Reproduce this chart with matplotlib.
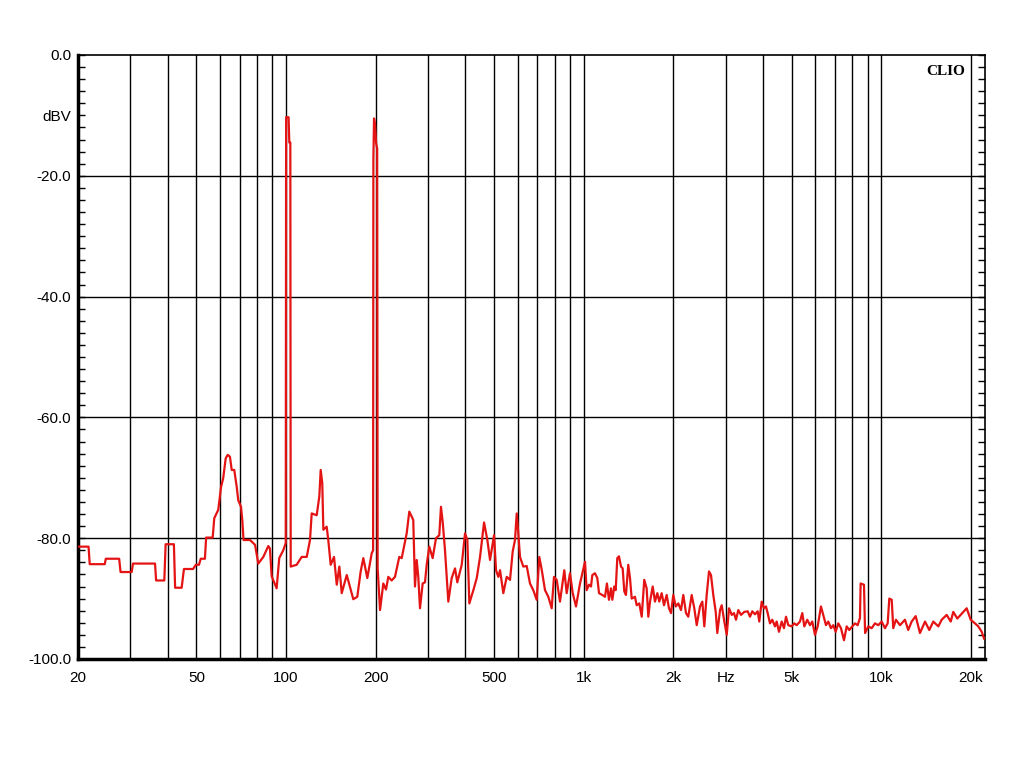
import matplotlib

matplotlib.use("Agg")
import matplotlib.pyplot as plt
from matplotlib.ticker import MultipleLocator, NullLocator

# spectrum trace (Hz, dBV)
freq = [
    20, 21.7, 21.9, 24.6, 24.8, 27.5, 27.8, 30.3, 30.6, 36.3, 36.6, 39.0, 39.4, 42.0,
    42.4, 44.6, 45.4, 48.7, 49.8, 51.0, 51.7, 53.4, 53.9, 56.7, 57.4, 59.2, 60.5, 61.5,
    62.7, 63.7, 64.8, 65.7, 67.0, 68.3, 69.1, 70.6, 71.3, 72.0, 75.7, 78.7, 80.7, 83.9,
    87.2, 88.3, 89.5, 93.0, 94.9, 97.9, 99.8, 100.1, 102.0, 102.6, 103.4, 103.7, 108.6,
    112.9, 117.4, 120.4, 122.0, 126.8, 129.4, 130.8, 132.4, 133.5, 137.0, 138.7, 141.3,
    145.0, 148.1, 151.1, 153.9, 160.0, 168.3, 173.6, 178.2, 181.9, 187.6, 194.1, 196.2,
    196.6, 197.6, 199.2, 200.8, 202.5, 203.2, 207.0, 212.3, 216.8, 220.7, 226.5, 232.4,
    240.2, 244.8, 254.4, 259.6, 264.4, 267.7, 271.3, 274.9, 278.3, 282.0, 287.9, 293.1,
    297.0, 303.0, 311.0, 319.2, 327.4, 331.7, 336.1, 342.2, 351.1, 360.4, 369.8, 376.4,
    389.5, 399.6, 406.8, 413.1, 426.2, 437.5, 448.8, 462.9, 474.9, 484.9, 500.2, 507.9,
    517.0, 523.9, 537.4, 551.7, 566.0, 577.8, 588.2, 596.1, 603.4, 611.4, 627.2, 643.9,
    660.6, 677.6, 695.7, 709.8, 723.2, 741.9, 761.1, 781.3, 795.3, 812.1, 833.1, 861.3,
    877.4, 900.2, 919.3, 943.0, 972.6,
    1011, 1024, 1043, 1059, 1070, 1092, 1112, 1127, 1156, 1180, 1198, 1217, 1236, 1249,
    1268, 1282, 1298, 1315, 1336, 1353, 1370, 1388, 1413, 1432, 1451, 1488, 1508, 1539,
    1568, 1599, 1629, 1650, 1672, 1707, 1737, 1769, 1796, 1830, 1863, 1902, 1936, 1967,
    2002, 2040, 2081, 2125, 2163, 2209, 2248, 2308, 2355, 2400, 2462, 2506, 2545, 2592,
    2639, 2680, 2728, 2780, 2814, 2874, 2912, 2971, 3027, 3081, 3146, 3202, 3252, 3311,
    3381, 3467, 3560, 3624, 3689, 3767, 3846, 3894, 3967, 4038, 4101, 4155, 4230, 4306,
    4397, 4455, 4535, 4631, 4714, 4788, 4874, 5003, 5105, 5201, 5335, 5431, 5516, 5645,
    5764, 5868, 5992, 6118, 6276, 6389, 6524, 6641, 6781, 6903, 7032, 7175, 7327, 7499,
    7657, 7813, 7996, 8165, 8338, 8487, 8530, 8754, 8830, 9050, 9291, 9531, 9779, 10040,
    10298, 10515, 10650, 10850, 10980, 11210, 11570, 12020,
    12330, 12660, 13060, 13500, 14040, 14510, 14970, 15560, 15970, 16600, 17130, 17470,
    18020, 18640, 19380, 19990, 20660, 21200, 21770, 22160,
]
level = [
    -81.4, -81.4, -84.3, -84.3, -83.4, -83.4, -85.6, -85.6, -84.2, -84.2, -87.0, -87.0, -81.0, -81.0,
    -88.2, -88.2, -85.1, -85.1, -84.4, -84.4, -83.4, -83.4, -79.9, -79.9, -76.7, -75.3, -71.5, -70.1,
    -66.8, -66.2, -66.5, -68.7, -68.7, -71.5, -73.7, -74.8, -77.0, -80.3, -80.3, -81.1, -84.2, -83.1,
    -81.3, -81.7, -86.3, -88.3, -83.3, -82.0, -80.8, -10.3, -10.3, -14.5, -14.5, -84.7, -84.4,
    -83.1, -83.1, -80.3, -75.9, -76.2, -73.1, -68.7, -70.9, -78.6, -78.1, -80.3, -84.4,
    -83.1, -87.7, -84.7, -89.1, -86.1, -90.1, -89.7, -85.5, -83.3, -86.6, -82.5, -82.0,
    -17.4, -10.5, -11.5, -14.6, -15.5, -85.0, -91.9, -87.5, -88.5, -86.4, -87.0, -86.4,
    -83.1, -83.3, -79.2, -75.6, -76.4, -77.0, -88.0, -83.6, -86.4, -91.6, -87.5, -87.3,
    -84.4, -81.4, -83.3, -80.0, -79.5, -74.8, -77.3, -82.0, -90.5, -86.6, -85.0, -87.3,
    -84.4, -79.2, -80.3, -90.8, -88.6, -86.6, -83.1, -77.4, -80.3, -83.6, -79.5, -85.3,
    -86.4, -85.3, -89.1, -86.4, -86.9, -82.2, -80.3, -75.9, -79.2, -83.1, -84.7, -84.6,
    -87.5, -88.6, -90.2, -83.1, -85.2, -88.6, -89.7, -91.6, -86.4, -86.9, -90.5, -85.3,
    -89.1, -85.8, -89.1, -91.3, -87.5,
    -83.9, -88.6, -87.7, -88.0, -86.1, -85.8, -86.6, -89.1, -89.4, -89.7, -87.5, -90.2, -88.3, -90.2,
    -88.0, -88.6, -83.3, -83.0, -84.7, -85.0, -88.8, -89.4, -84.4, -86.6, -90.0, -89.7, -91.1, -90.8,
    -93.0, -86.9, -88.3, -93.0, -90.5, -88.0, -90.5, -89.1, -90.5, -89.1, -91.1, -89.4, -91.6, -92.4,
    -89.4, -91.3, -90.8, -91.9, -89.4, -92.4, -93.0, -89.4, -91.6, -94.4, -91.3, -90.5, -94.6, -89.4,
    -85.5, -86.1, -89.4, -92.2, -95.7, -91.9, -91.1, -93.8, -96.0, -91.6, -92.7, -92.4, -93.5, -91.9,
    -92.7, -92.2, -92.1, -93.0, -92.1, -92.6, -92.1, -93.8, -90.5, -91.6, -91.3, -92.4, -94.1, -93.5,
    -94.6, -93.8, -95.5, -93.8, -94.9, -93.0, -94.4, -94.6, -94.1, -94.4, -93.8, -92.4, -94.6, -93.5,
    -94.4, -93.8, -96.0, -94.6, -91.3, -92.7, -94.4, -93.8, -94.9, -94.4, -95.5, -94.1, -94.9, -96.9,
    -94.6, -95.2, -94.6, -94.1, -94.4, -93.2, -87.5, -87.7, -95.7, -94.6, -94.9, -94.1, -94.4, -93.8,
    -94.9, -94.1, -90.0, -90.2, -94.9, -93.5, -94.4, -93.5,
    -95.2, -93.8, -92.9, -95.7, -93.8, -95.2, -93.8, -94.6, -93.5, -92.7, -93.8, -92.2,
    -93.3, -92.5, -91.6, -93.5, -94.1, -94.6, -95.5, -96.6,
]

x_grid = [30, 40, 50, 60, 70, 80, 90, 100, 200, 300, 400, 500, 600, 700, 800, 900,
          1000, 2000, 3000, 4000, 5000, 6000, 7000, 8000, 9000, 10000, 20000]
x_ticks = [20, 50, 100, 200, 500, 1000, 2000, 3000, 5000, 10000, 20000]
x_labels = ["20", "50", "100", "200", "500", "1k", "2k", "Hz", "5k", "10k", "20k"]
y_grid = [-20, -40, -60, -80]
y_ticks = [0, -10, -20, -40, -60, -80, -100]
y_labels = ["0.0", "dBV", "-20.0", "-40.0", "-60.0", "-80.0", "-100.0"]

plt.rcParams["font.family"] = ["Liberation Sans", "DejaVu Sans"]

fig = plt.figure(figsize=(10.24, 7.68), dpi=100)
ax = fig.add_axes([78 / 1024, 1 - 659 / 768, 907 / 1024, 604 / 768])

for x in x_grid:
    ax.axvline(x, color="black", lw=1.0, zorder=1)
for y in y_grid:
    ax.axhline(y, color="black", lw=1.0, zorder=1)

ax.plot(freq, level, color="#e41414", lw=1.6, zorder=3)

ax.set_xscale("log")
ax.set_xlim(20, 22330)
ax.set_ylim(-100, 0)

ax.xaxis.set_major_locator(plt.FixedLocator(x_ticks))
ax.xaxis.set_minor_locator(NullLocator())
ax.set_xticklabels(x_labels)
ax.set_yticks(y_ticks)
ax.set_yticklabels(y_labels)
ax.yaxis.set_minor_locator(MultipleLocator(2))

ax.tick_params(axis="x", which="both", length=0, pad=9, labelsize=11, colors="black")
ax.tick_params(axis="y", which="both", direction="in", length=5, width=1,
               left=True, right=True, pad=5, labelsize=11)

for side in ["left", "bottom"]:
    ax.spines[side].set_linewidth(2.5)
for side in ["top", "right"]:
    ax.spines[side].set_linewidth(1.2)

ax.text(0.978, 0.983, "CLIO", transform=ax.transAxes, ha="right", va="top",
        fontfamily="Liberation Serif", fontweight="bold", fontsize=11)

fig.savefig("out.png", dpi=100)
